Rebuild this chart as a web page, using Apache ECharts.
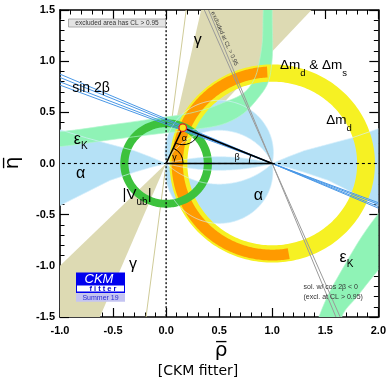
<!DOCTYPE html>
<html>
<head>
<meta charset="utf-8">
<script src="https://cdn.jsdelivr.net/npm/echarts@6/dist/echarts.min.js"></script>
<style>
html,body{margin:0;padding:0;background:#fff;}
#chart{width:389px;height:383px;}
</style>
</head>
<body>
<div id="chart"></div>
<script>
// ---- axis ranges and tick labels ----
const rhoRange = [-1, 2];
const etaRange = [-1.5, 1.5];
const rhoTickLabels = ['-1.0', '-0.5', '0.0', '0.5', '1.0', '1.5', '2.0'];
const etaTickLabels = ['-1.5', '-1.0', '-0.5', '0.0', '0.5', '1.0', '1.5'];

// ---- fitted apex of the unitarity triangle (rho, eta) ----
const apex = [0.157, 0.350];

// ---- circular constraints: [centreRho, centreEta, innerR, outerR, fromDeg, toDeg] ----
const dmdRing = [1, 0, 0.80, 0.968, 0, 360];
const dmsRing = [1, 0, 0.842, 0.948, 93, 280];
const vubRing = [0, 0, 0.355, 0.432, 0, 360];

// ---- gamma: wedges from the origin [fromDeg, toDeg] and the thin edge line ----
const gammaWedges = [[47.6, 77.6], [225.0, 247.4]];
const gammaLineDeg = [82.8];

// ---- alpha: bands of apex angle [minDeg, maxDeg, side(+1 above / -1 below)] ----
const alphaBands = [[78, 114, 1], [81, 136, -1], [165, 180, 1], [165, 180, -1]];
// alpha solutions hugging the real axis outside the base (rho, eta)
const alphaLeft = [[0, 0], [-0.15, 0.065], [-0.3, 0.125], [-0.5, 0.18], [-0.75, 0.25], [-1.0, 0.33], [-1.3, 0.43],
                   [-1.3, -0.56], [-1.0, -0.41], [-0.75, -0.28], [-0.53, -0.165], [-0.3, -0.085], [-0.15, -0.04], [0, 0]];
const alphaRight = [[1, 0], [1.15, 0.065], [1.3, 0.125], [1.5, 0.18], [1.75, 0.25], [2.0, 0.34], [2.3, 0.44],
                    [2.3, -0.56], [2.0, -0.41], [1.75, -0.28], [1.53, -0.165], [1.3, -0.085], [1.15, -0.04], [1, 0]];

// ---- sin 2beta: eta at rho = -1 of the lines through (1,0) ----
const sin2bEta = [0.873, 0.841, 0.798, 0.766];
// cos 2beta < 0 solution: rho at eta = 1.5 of the lines through (1,0)
const cos2bRho = [0.36, 0.40];

// ---- epsilon_K band edges (rho, eta) ----
const epsKUpperA = [[-1.3, 0.29], [-1.0, 0.31], [-0.5, 0.38], [0.0, 0.455], [0.22, 0.49], [0.53, 0.59], [0.78, 0.74], [0.89, 1.06], [0.915, 1.5], [0.92, 1.8]];
const epsKUpperB = [[1.0, 1.8], [1.0, 1.5], [0.985, 0.89], [0.875, 0.65], [0.62, 0.42], [0.22, 0.325], [0.0, 0.30], [-0.5, 0.235], [-1.0, 0.165], [-1.3, 0.14]];
const epsKLowerA = [[1.40, -1.8], [1.44, -1.5], [1.69, -0.98], [2.0, -0.49], [2.2, -0.3]];
const epsKLowerB = [[2.2, -0.8], [2.0, -1.04], [1.80, -1.30], [1.655, -1.5], [1.62, -1.8]];

const C = {
  gamma: '#dddab3', gammaLine: '#cfcb98', alpha: '#b5e1f6', epsK: '#8ff3b6',
  dmd: '#f6f123', dms: '#ff9a00', vub: '#3dc23d', sin2b: '#4a98e6', grey: '#9a9a9a',
  alphaEdge: 'rgba(214,239,252,0.85)', epsKEdge: 'rgba(178,246,206,0.85)'
};
const FONT = '"Liberation Sans", Arial, Helvetica, sans-serif';

// ---- geometry helpers (all in data coordinates) ----
const D2R = Math.PI / 180;
function ringPoly(r, n) {
  const [cx, cy, r1, r2, a0, a1] = r;
  const out = [], inn = [];
  for (let i = 0; i <= n; i++) {
    const t = (a0 + (a1 - a0) * i / n) * D2R;
    out.push([cx + r2 * Math.cos(t), cy + r2 * Math.sin(t)]);
    inn.push([cx + r1 * Math.cos(t), cy + r1 * Math.sin(t)]);
  }
  return out.concat(inn.reverse());
}
// arc of apex positions that see the base (0,0)-(1,0) under the angle a, from O to B
function alphaArc(aDeg, side, n) {
  if (aDeg >= 179.99) return [[0, 0], [1, 0]];
  const h = 0.5 / Math.tan(aDeg * D2R);
  const R = Math.sqrt(0.25 + h * h);
  const tO = Math.PI + Math.atan(2 * h), tB = -Math.atan(2 * h);
  const pts = [];
  for (let i = 0; i <= n; i++) {
    const t = tO + (tB - tO) * i / n;
    pts.push([0.5 + R * Math.cos(t), side * (h + R * Math.sin(t))]);
  }
  return pts;
}
function alphaBandPoly(b) {
  return alphaArc(b[0], b[2], 160).concat(alphaArc(b[1], b[2], 160).reverse());
}
function wedgePoly(w) {
  const L = 4;
  return [[0, 0], [L * Math.cos(w[0] * D2R), L * Math.sin(w[0] * D2R)], [L * Math.cos(w[1] * D2R), L * Math.sin(w[1] * D2R)]];
}
function linesThrough(p, q) {
  const dx = q[0] - p[0], dy = q[1] - p[1];
  return [[p[0] - 5 * dx, p[1] - 5 * dy], [p[0] + 5 * dx, p[1] + 5 * dy]];
}

// ---- custom-series layer builders ----
function clipRect(params) {
  const c = params.coordSys;
  return { type: 'rect', shape: { x: c.x, y: c.y, width: c.width, height: c.height } };
}
function polyLayer(polys, fill, stroke, width, smooth) {
  return {
    type: 'custom', coordinateSystem: 'cartesian2d', data: [[0, 0]], silent: true, clip: true,
    renderItem: (params, api) => ({
      type: 'group', clipPath: clipRect(params),
      children: polys.map(pl => ({
        type: 'polygon',
        shape: { points: pl.map(p => api.coord(p)), smooth: smooth || 0 },
        style: { fill: fill, stroke: stroke, lineWidth: width || 0 }
      }))
    })
  };
}
function lineLayer(lines, stroke, width, dash) {
  return {
    type: 'custom', coordinateSystem: 'cartesian2d', data: [[0, 0]], silent: true, clip: true,
    renderItem: (params, api) => ({
      type: 'group', clipPath: clipRect(params),
      children: lines.map(l => ({
        type: 'polyline',
        shape: { points: l.map(p => api.coord(p)) },
        style: { stroke: stroke, lineWidth: width, fill: null, lineDash: dash || null }
      }))
    })
  };
}

// ---- build constraint shapes ----
const gammaPolys = gammaWedges.map(wedgePoly);
const gammaLines = gammaLineDeg.map(a => linesThrough([0, 0], [Math.cos(a * D2R), Math.sin(a * D2R)]));
const alphaPolys = alphaBands.map(alphaBandPoly).concat([alphaLeft, alphaRight]);
const epsKPolys = [epsKUpperA.concat(epsKUpperB), epsKLowerA.concat(epsKLowerB)];
const sin2bLines = sin2bEta.map(e => linesThrough([1, 0], [-1, e]));
const cos2bLines = cos2bRho.map(r => linesThrough([1, 0], [r, 1.5]));

// triangle with its angle arcs and the apex marker
const triangleLayer = {
  type: 'custom', coordinateSystem: 'cartesian2d', data: [[0, 0]], silent: true, clip: true,
  renderItem: (params, api) => {
    const O = api.coord([0, 0]), B = api.coord([1, 0]), A = api.coord(apex);
    const ang = (p, q) => Math.atan2(q[1] - p[1], q[0] - p[0]);
    const arc = (c, r, a0, a1) => ({ type: 'arc', shape: { cx: c[0], cy: c[1], r: r, startAngle: a0, endAngle: a1, clockwise: true }, style: { stroke: '#000', lineWidth: 1, fill: null } });
    const lbl = (t, p, size) => ({ type: 'text', x: p[0], y: p[1], style: { text: t, fontSize: size, fontFamily: FONT, fill: '#000', align: 'center', verticalAlign: 'middle' } });
    let aB = ang(B, A); if (aB < 0) aB += 2 * Math.PI;
    return {
      type: 'group', clipPath: clipRect(params), children: [
        { type: 'polyline', shape: { points: [O, B, A, O] }, style: { stroke: '#000', lineWidth: 1.6, fill: null } },
        arc(O, 17, ang(O, A), 0),
        arc(A, 17, ang(A, B), ang(A, O)),
        arc(B, 23, Math.PI, aB),
        lbl('γ', api.coord([0.078, 0.055]), 9),
        lbl('α', api.coord([0.171, 0.245]), 9),
        lbl('β', api.coord([0.669, 0.062]), 9),
        { type: 'ellipse', shape: { cx: A[0], cy: A[1], rx: 3.8, ry: 3.8 }, style: { fill: '#f8e820', stroke: '#e8231c', lineWidth: 1.3 } }
      ]
    };
  }
};

// constraint names and notes
function richText(p, text, rich) {
  return { type: 'text', x: p[0], y: p[1], style: { text: text, rich: rich, fontFamily: FONT, fill: '#000', verticalAlign: 'middle', align: 'left' } };
}
const mainSub = (m, s) => ({
  m: { fontSize: m, lineHeight: 20, fontFamily: FONT, fill: '#000', verticalAlign: 'top' },
  s: { fontSize: s, lineHeight: 9, fontFamily: FONT, fill: '#000', verticalAlign: 'bottom' }
});
function smallText(p, text) {
  return { type: 'text', x: p[0], y: p[1], style: { text: text, fontSize: 7, fontFamily: FONT, fill: '#333', align: 'left', verticalAlign: 'middle' } };
}
const textLayer = {
  type: 'custom', coordinateSystem: 'cartesian2d', data: [[0, 0]], silent: true, clip: false,
  renderItem: (params, api) => {
    const rp = api.coord([0.55, 1.22]);
    return {
      type: 'group', children: [
        richText(api.coord([-0.885, 0.705]), '{m|sin 2β}', mainSub(14, 9)),
        richText(api.coord([-0.87, 0.215]), '{m|ε}{s|K}', mainSub(16, 10)),
        richText(api.coord([-0.85, -0.115]), '{m|α}', mainSub(16, 10)),
        richText(api.coord([-0.41, -0.33]), '{m||V}{s|ub}{m||}', mainSub(15, 10)),
        richText(api.coord([0.26, 1.185]), '{m|γ}', mainSub(16, 10)),
        richText(api.coord([-0.35, -1.01]), '{m|γ}', mainSub(16, 10)),
        richText(api.coord([1.072, 0.93]), '{m|Δm}{s|d}{m| & Δm}{s|s}', mainSub(13.5, 9.5)),
        richText(api.coord([1.51, 0.39]), '{m|Δm}{s|d}', mainSub(13.5, 9.5)),
        richText(api.coord([0.825, -0.335]), '{m|α}', mainSub(16, 10)),
        richText(api.coord([1.635, -0.94]), '{m|ε}{s|K}', mainSub(16, 10)),
        smallText(api.coord([1.295, -1.21]), 'sol. w/ cos 2β < 0'),
        smallText(api.coord([1.295, -1.305]), '(excl. at CL > 0.95)'),
        { type: 'text', x: rp[0], y: rp[1], rotation: -66 * D2R, style: { text: 'excluded at CL > 0.95', fontSize: 6, fontFamily: FONT, fill: '#444', align: 'center', verticalAlign: 'middle' } }
      ]
    };
  }
};

const axisCommon = {
  type: 'value', splitLine: { show: false },
  axisLine: { onZero: false, lineStyle: { color: '#000', width: 1.6 } },
  axisTick: { inside: true, length: 9, lineStyle: { color: '#000', width: 1.2 } },
  minorTick: { show: true, splitNumber: 5, length: 4.5, lineStyle: { color: '#000', width: 1 } }
};
const chart = echarts.init(document.getElementById('chart'), null, { renderer: 'canvas' });
chart.setOption({
  animation: false,
  grid: { left: 60, right: 9, top: 10, bottom: 66 },
  xAxis: [
    Object.assign({}, axisCommon, {
      min: rhoRange[0], max: rhoRange[1], interval: 0.5, position: 'bottom',
      axisLabel: { margin: 8, fontSize: 11, fontWeight: 'bold', fontFamily: FONT, color: '#000',
        formatter: v => rhoTickLabels[Math.round((v - rhoRange[0]) / 0.5)] }
    }),
    Object.assign({}, axisCommon, { min: rhoRange[0], max: rhoRange[1], interval: 0.5, position: 'top', axisLabel: { show: false } })
  ],
  yAxis: [
    Object.assign({}, axisCommon, {
      min: etaRange[0], max: etaRange[1], interval: 0.5, position: 'left',
      axisLabel: { margin: 5, fontSize: 11, fontWeight: 'bold', fontFamily: FONT, color: '#000',
        formatter: v => etaTickLabels[Math.round((v - etaRange[0]) / 0.5)] }
    }),
    Object.assign({}, axisCommon, { min: etaRange[0], max: etaRange[1], interval: 0.5, position: 'right', axisLabel: { show: false } })
  ],
  graphic: [
    // excluded-area note
    { type: 'rect', shape: { x: 68.5, y: 19, width: 97, height: 8 }, style: { fill: '#e4e4e4', stroke: '#9a9a9a', lineWidth: 0.8 }, z: 100 },
    { type: 'text', x: 117, y: 23, style: { text: 'excluded area has CL > 0.95', fontSize: 6.5, fontFamily: FONT, fill: '#333', align: 'center', verticalAlign: 'middle' }, z: 101 },
    // CKMfitter logo
    { type: 'rect', shape: { x: 76, y: 272.5, width: 49, height: 20.5 }, style: { fill: '#0000ee' }, z: 100 },
    { type: 'rect', shape: { x: 77, y: 285.5, width: 47, height: 6 }, style: { fill: '#ffffff' }, z: 101 },
    { type: 'text', x: 99, y: 279.5, style: { text: 'CKM', fontSize: 13, fontStyle: 'italic', fontFamily: FONT, fill: '#fff', align: 'center', verticalAlign: 'middle' }, z: 102 },
    { type: 'text', x: 103, y: 288.8, style: { text: 'f i t t e r', fontSize: 7.5, fontWeight: 'bold', fontFamily: FONT, fill: '#0000cc', align: 'center', verticalAlign: 'middle' }, z: 102 },
    { type: 'rect', shape: { x: 76, y: 293.3, width: 49, height: 8.5 }, style: { fill: '#c4c4f2' }, z: 100 },
    { type: 'text', x: 100.5, y: 297.6, style: { text: 'Summer 19', fontSize: 7, fontFamily: FONT, fill: '#2a2ad0', align: 'center', verticalAlign: 'middle' }, z: 102 },
    // axis titles
    { type: 'text', x: 13, y: 163, rotation: Math.PI / 2, style: { text: 'η\u0305', fontSize: 20, fontFamily: '"DejaVu Sans", sans-serif', fill: '#000', align: 'center', verticalAlign: 'middle' } },
    { type: 'text', x: 221, y: 351, style: { text: 'ρ\u0305', fontSize: 20, fontFamily: '"DejaVu Sans", sans-serif', fill: '#000', align: 'center', verticalAlign: 'middle' } },
    { type: 'text', x: 198, y: 371, style: { text: '[CKM fitter]', fontSize: 14, fontFamily: '"DejaVu Sans", sans-serif', fill: '#000', align: 'center', verticalAlign: 'middle' } }
  ],
  series: [
    polyLayer(gammaPolys, C.gamma, null, 0),
    lineLayer(gammaLines, C.gammaLine, 1),
    polyLayer(alphaPolys, C.alpha, null, 0),
    polyLayer(epsKPolys, C.epsK, null, 0, 0.4),
    polyLayer([ringPoly(dmdRing, 240)], C.dmd, null, 0),
    polyLayer([ringPoly(dmsRing, 200)], C.dms, null, 0),
    polyLayer([ringPoly(vubRing, 200)], C.vub, null, 0),
    // faint outlines of the alpha and epsilon_K regions over the rings
    polyLayer(alphaPolys, null, C.alphaEdge, 0.8),
    polyLayer(epsKPolys, null, C.epsKEdge, 0.8, 0.4),
    lineLayer(sin2bLines, C.sin2b, 1),
    lineLayer(cos2bLines, C.grey, 1),
    lineLayer([[[-2, 0], [3, 0]]], '#000', 1.1, [3, 3]),
    lineLayer([[[0, -2], [0, 2]]], '#000', 1.3, [2, 2]),
    triangleLayer,
    textLayer
  ]
});
</script>
</body>
</html>
